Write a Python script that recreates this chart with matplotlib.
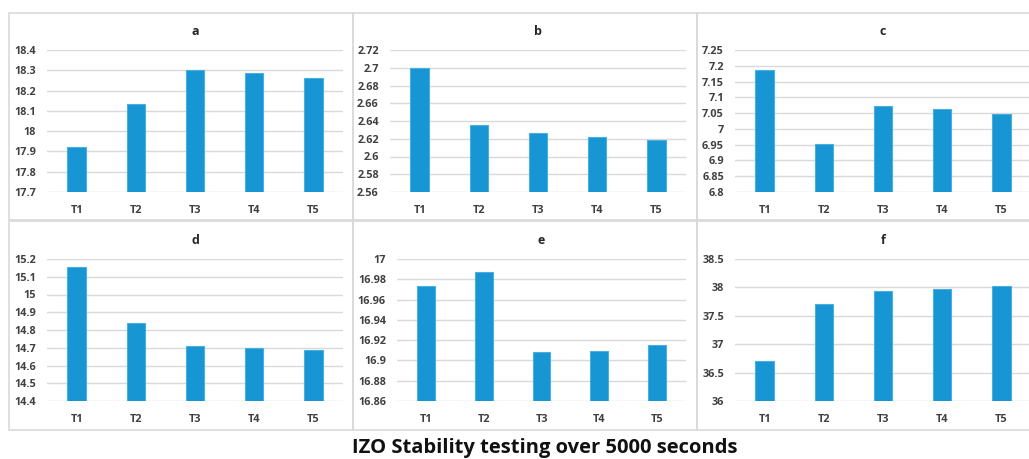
import matplotlib
matplotlib.use("Agg")
import matplotlib.pyplot as plt
from matplotlib.patches import Rectangle
import numpy as np

W, H = 1029, 459

categories = ["T1", "T2", "T3", "T4", "T5"]

# values
vals_a = [17.923, 18.136, 18.302, 18.287, 18.262]
vals_b = [2.700, 2.6353, 2.627, 2.6218, 2.6188]
vals_c = [7.188, 6.953, 7.071, 7.062, 7.048]
vals_d = [15.155, 14.842, 14.711, 14.698, 14.685]
vals_e = [16.973, 16.987, 16.908, 16.909, 16.915]
vals_f = [36.70, 37.70, 37.93, 37.97, 38.02]

ticks_a = ["17.7", "17.8", "17.9", "18", "18.1", "18.2", "18.3", "18.4"]
ticks_b = ["2.56", "2.58", "2.6", "2.62", "2.64", "2.66", "2.68", "2.7", "2.72"]
ticks_c = ["6.8", "6.85", "6.9", "6.95", "7", "7.05", "7.1", "7.15", "7.2", "7.25"]
ticks_d = ["14.4", "14.5", "14.6", "14.7", "14.8", "14.9", "15", "15.1", "15.2"]
ticks_e = ["16.86", "16.88", "16.9", "16.92", "16.94", "16.96", "16.98", "17"]
ticks_f = ["36", "36.5", "37", "37.5", "38", "38.5"]

panel_labels = ["a", "b", "c", "d", "e", "f"]

BAR = "#1796d3"
EDGE = "#4aaee0"
GRID = "#d9d9d9"
TXT = "#404040"
FONT = ["Open Sans", "DejaVu Sans"]

fig = plt.figure(figsize=(W / 100, H / 100), dpi=100)


def px_axes(x0, x1, y0, y1):
    # pixel box (top-left origin) -> figure axes
    return fig.add_axes([x0 / W, 1 - y1 / H, (x1 - x0) / W, (y1 - y0) / H])


# panel frames (pixels): x0, x1, y0, y1
frames = [
    (9, 353, 13, 220), (353, 697, 13, 220), (697, 1035, 13, 220),
    (9, 353, 221, 430), (353, 697, 221, 430), (697, 1035, 221, 430),
]
for x0, x1, y0, y1 in frames:
    fig.add_artist(Rectangle((x0 / W, 1 - y1 / H), (x1 - x0) / W, (y1 - y0) / H,
                             transform=fig.transFigure, fill=False,
                             edgecolor=GRID, linewidth=1.2))

# plot areas (pixels)
boxes = [
    (47, 343, 50, 192), (390, 686, 50, 192), (735, 1031, 50, 192),
    (47, 343, 259, 401), (397, 686, 259, 401), (735, 1031, 259, 401),
]

series = [vals_a, vals_b, vals_c, vals_d, vals_e, vals_f]
ticks = [ticks_a, ticks_b, ticks_c, ticks_d, ticks_e, ticks_f]

x = np.arange(len(categories))
for box, vals, tk, lab in zip(boxes, series, ticks, panel_labels):
    ax = px_axes(*box)
    tv = [float(t) for t in tk]
    ax.set_axisbelow(True)
    ax.bar(x, vals, width=0.31, color=BAR, edgecolor=EDGE, linewidth=0.8, zorder=3)
    ax.set_ylim(tv[0], tv[-1])
    ax.set_xlim(-0.5, len(categories) - 0.5)
    ax.set_yticks(tv)
    ax.set_yticklabels(tk)
    ax.set_xticks(x)
    ax.set_xticklabels(categories)
    ax.yaxis.grid(True, color=GRID, linewidth=1.0)
    for s in ax.spines.values():
        s.set_visible(False)
    ax.tick_params(length=0, colors=TXT, labelsize=7.8)
    ax.tick_params(axis="y", pad=8)
    ax.tick_params(axis="x", pad=9)
    for t in ax.get_xticklabels() + ax.get_yticklabels():
        t.set_fontweight("bold")
        t.set_family(FONT)
    ax.set_title(lab, fontsize=9, fontweight="bold", color="#262626",
                 family=FONT, pad=11)
    ax.set_facecolor("none")

fig.text(545 / W, 1 - 458 / H, "IZO Stability testing over 5000 seconds",
         ha="center", va="bottom", fontsize=14.5, fontweight="bold",
         family=FONT, color="#111111")

fig.savefig("out.png", dpi=100)
